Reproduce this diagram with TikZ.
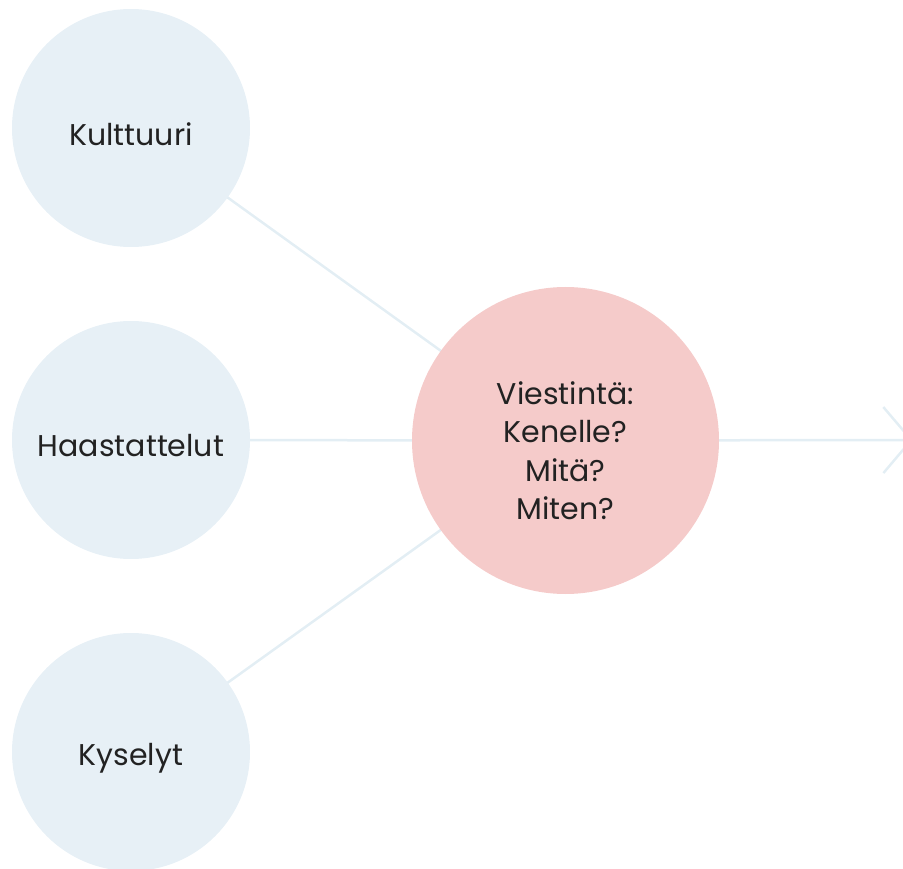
\documentclass[tikz,border=0pt]{standalone}
\usepackage{fontspec}
\setmainfont{Poppins}
\usetikzlibrary{arrows.meta}
\definecolor{bubbleblue}{HTML}{E7F0F6}
\definecolor{bubblepink}{HTML}{F5CBCA}
\definecolor{linkblue}{HTML}{E3EEF4}
\definecolor{inktext}{HTML}{222222}
\begin{document}
\begin{tikzpicture}[x=1pt,y=-1pt,
  source/.style={circle,fill=bubbleblue,inner sep=0pt,minimum size=238pt},
  sourcetext/.style={yshift=-6pt,text=inktext,font=\fontsize{30}{38.5}\selectfont},
  hub/.style={circle,fill=bubblepink,inner sep=0pt,minimum size=307pt},
  hubtext/.style={yshift=-10pt,text=inktext,align=center,
    font=\fontsize{30}{38.5}\selectfont},
  link/.style={draw=linkblue,line width=2.5pt}]
\clip (0,0) rectangle (903,869);
\useasboundingbox (0,0) rectangle (903,869);
% lines first, bubbles on top
\coordinate (out) at (913,440);
\path (131,128) coordinate (kpos);
\path (131,440) coordinate (hpos);
\path (131,752) coordinate (kypos);
\path (565.5,440.5) coordinate (vpos);
\draw [link] (kpos) -- (vpos);
\draw [link] (hpos) -- (vpos);
\draw [link] (kypos) -- (vpos);
\draw [link,-{Straight Barb[length=28pt,width=66pt]}] (vpos) -- (out);
\node [source,label={[sourcetext]center:Kulttuuri}] (kulttuuri) at (kpos) {};
\node [source,label={[sourcetext]center:Haastattelut}] (haastattelut) at (hpos) {};
\node [source,label={[sourcetext]center:Kyselyt}] (kyselyt) at (kypos) {};
\node [hub,label={[hubtext]center:Viestintä:\\Kenelle?\\Mitä?\\Miten?}] (viestinta) at (vpos) {};
\end{tikzpicture}
\end{document}
